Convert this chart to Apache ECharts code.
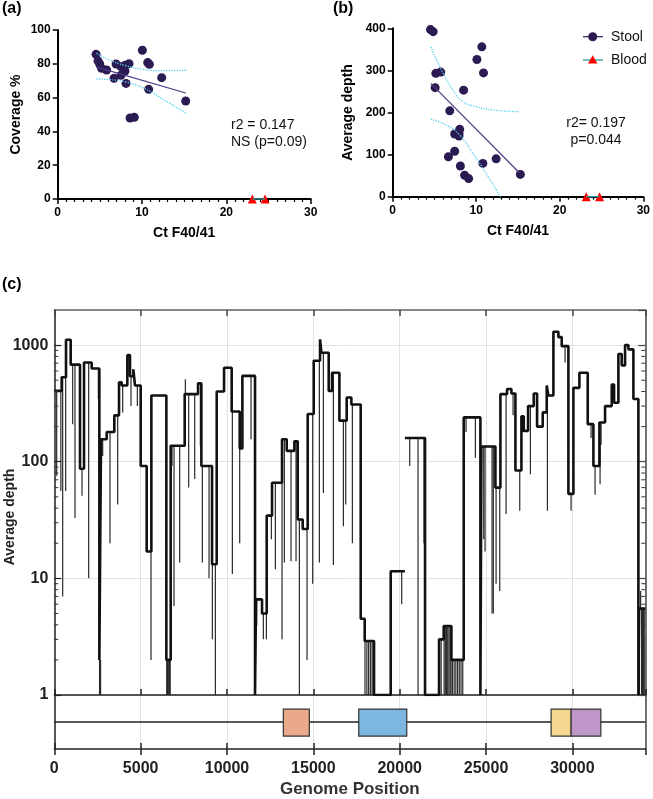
<!DOCTYPE html>
<html><head><meta charset="utf-8">
<script src="https://cdn.jsdelivr.net/npm/echarts@6/dist/echarts.min.js"></script>
<style>html,body{margin:0;padding:0;background:#fff}#c{width:653px;height:799px}</style>
</head><body><div id="c"></div>
<script>
// ---------- Panel (a) ----------
const ctA_stool = [4.55,4.78,4.98,5.2,5.8,6.68,6.92,7.5,7.5,7.98,8.0,8.1,8.46,8.58,9.09,10.04,10.67,10.87,10.79,12.33,15.18];
const covA_stool = [85.6,81.7,79.9,77.3,76.3,71.4,79.9,78.3,73.2,75.7,79.1,68.4,80.1,47.9,48.3,88.0,80.7,79.7,64.9,71.8,58.0];
const ctA_blood = [23.08,24.58];
const covA_blood = [0,0];
const regA_x = [4.55,15.18];
const regA_y = [78.2,62.7];
const bandA_x = [4.6,6,8,10,12,15.2];
const bandA_up = [86.3,82.5,79,76.8,76,76.2];
const bandA_lo = [71.0,70.7,69.3,66,60.5,50.7];
// ---------- Panel (b) ----------
const ctB_stool = [4.52,4.84,5.16,5.75,5.08,6.83,6.67,7.42,7.42,7.94,8.02,7.94,8.1,8.49,8.61,9.09,10.08,10.67,10.87,10.79,12.38,15.28];
const depthB_stool = [397,392,293,296,259,204,95,149,108,150,160,144,73,253,51,43,326,356,294,79,90,53];
const ctB_blood = [23.17,24.76];
const depthB_blood = [0,0];
const regB_x = [4.56,15.16];
const regB_y = [269,57];
const bandB_upx = [4.56,5.63,7.22,8.41,10,11.98,15.04];
const bandB_up = [356,309,253,226,214,206,202];
const bandB_lox = [4.56,6.43,8.02,9.6,11.19,12.9];
const bandB_lo = [184,170,146.5,103,55,0];
// ---------- Panel (c) ----------
const GENOME_END = 34220;
const segStart = [0,427,678,948,1488,1720,2164,2608,2704,3033,
 3476,3747,3901,4229,4384,4577,4673,5002,5349,5620,
 6488,6739,7550,8322,8515,9133,9404,9829,10270,10735,
 10890,11622,11680,12028,12298,12607,13186,13457,13900,14094,
 14383,14673,15020,15387,15464,15889,16082,16507,16931,17201,
 17742,17973,18513,19479,20300,20300,21466,22277,22548,22992,
 23707,24672,24730,25541,25831,26217,26468,26700,27047,27182,
 27433,27761,27954,28281,28513,28609,28899,29188,29381,29767,
 30057,30404,30887,31215,31562,31890,32276,32411,32662,32855,
 33048,33241,33531,33820,33859];
const segDepth = [405,530,1110,680,87,710,630,2,156,180,
 250,480,450,820,540,620,450,92,17,370,
 2,137,380,470,92,13.2,400,640,270,130,
 545,1,6.6,5.0,34.5,66,156,124,150,32,
 26.5,257,735,1120,860,405,580,225,355,310,
 4.5,2.9,1,11.5,null,160,1,3,3.9,2,
 240,1,135,60,380,420,385,84,245,184,
 300,385,200,265,450,370,1300,1170,980,53,
 430,580,210,92,217,300,460,320,840,670,
 1000,920,345,1,5.5];
const dipPos = [137,380,485,658,1064,1199,1604,1990,2550,2801,
 3226,3670,3959,4442,4808,5600,6816,6932,7260,7589,
 7781,8129,8457,8573,8959,9152,9326,10310,10735,11391,
 11719,12105,12280,12568,12800,13186,13321,13708,13997,14190,
 14634,14962,15348,15580,16160,16739,16873,17259,20116,20579,
 21061,21408,23841,24382,24730,24865,24940,25348,25420,25580,
 25792,26159,26564,26950,27568,28552,29574,29922,31080,31311,
 31601,31659,33878,33950,34110,
 2620,2650,2680,6510,6550,6590,6630,6670,6710,
 17990,18100,18200,18300,18400,18480,22300,22400,
 22570,22640,22710,22780,22850,22920,22970,
 23050,23150,23250,23350,23450,23550,23650,34000,34060,34160];
const dipDepth = [76,56,7,56,210,33,51,10,345,112,
 20,43,265,300,300,2,92,5.8,13.7,510,
 60,71,137,13.7,10,3,1,10.9,20,156,
 3.9,3,3,21.6,12,3,13.7,14,14,1,
 2,9,13.7,54,13,28,43,20,6,92,
 1,20,180,108,16,21.7,17,5,5,9,
 7.8,35.6,250,38,78,38,710,38,160,52,
 64,140,1,7.8,1,
 1,1,1,1,1,1,1,1,1,
 1,1,1,1,1,1,1,1,
 1,1,1,1,1,1,1,
 1,1,1,1,1,1,1,1,1,1];
const minorTickVals = [2,3,4,5,6,7,8,9,20,30,40,50,60,70,80,90,200,300,400,500,600,700,800,900];
// gene track
const geneStart = [13262,17628,28766,29925];
const geneEnd = [14768,20408,29925,31645];
const geneColors = ['#EAA98A','#7DB6DE','#F5D78F','#BE96C7'];

const FONT = 'Arial, "Liberation Sans", Helvetica, sans-serif';
const zip = (a,b)=>a.map((v,i)=>[v,b[i]]);

function depthAt(p){
  let d = 1;
  for (let i=0;i<segStart.length;i++){ if (segStart[i] <= p) d = (segDepth[i]===null?1:segDepth[i]); else break; }
  return d;
}
const depthPts = [];
for (let i=0;i<segStart.length;i++){
  const s = segStart[i], e = (i+1<segStart.length)?segStart[i+1]:GENOME_END, d = segDepth[i];
  if (d === null){ depthPts.push([s,'-']); continue; }
  depthPts.push([s,d]); depthPts.push([e,d]);
}
const dipData = dipPos.map((p,i)=>[p, dipDepth[i], depthAt(p)]);

const chart = echarts.init(document.getElementById('c'), null, {renderer:'canvas'});

const lbl12 = {fontFamily:FONT, fontWeight:'bold', fontSize:12, color:'#000'};
const scatterAxisX = (gi, nameGap) => ({
  gridIndex: gi, type:'value', min:0, max:30, interval:10,
  name:'Ct F40/41', nameLocation:'middle', nameGap:nameGap,
  nameTextStyle:{fontFamily:FONT, fontWeight:'bold', fontSize:14, color:'#000'},
  axisLine:{show:true, onZero:false, lineStyle:{color:'#000', width:2}},
  axisTick:{show:true, length:5, lineStyle:{color:'#000', width:1.5}},
  minorTick:{show:true, splitNumber:10, length:3, lineStyle:{color:'#000', width:1.2}},
  splitLine:{show:false},
  axisLabel:Object.assign({margin:8}, lbl12)
});
const scatterAxisY = (gi, max, interval, name, nameGap) => ({
  gridIndex: gi, type:'value', min:0, max:max, interval:interval,
  name:name, nameLocation:'middle', nameGap:nameGap,
  nameTextStyle:{fontFamily:FONT, fontWeight:'bold', fontSize:14, color:'#000'},
  axisLine:{show:true, onZero:false, lineStyle:{color:'#000', width:2}},
  axisTick:{show:true, length:5, lineStyle:{color:'#000', width:1.5}},
  splitLine:{show:false},
  axisLabel:Object.assign({margin:7}, lbl12)
});
const lbl16 = {fontFamily:FONT, fontWeight:'bold', fontSize:16, color:'#222'};
const fmtInt = v => String(Math.round(v));
const gridLine = {show:true, lineStyle:{color:'#e2e2e2', width:1}};

const option = {
  animation:false,
  backgroundColor:'#fff',
  grid:[
    {left:57.7, top:30, width:253, height:169},
    {left:392.7, top:28.3, width:252.3, height:168.4},
    {left:54.3, top:310, width:591, height:385},
    {left:54.3, top:695, width:591, height:55}
  ],
  xAxis:[
    scatterAxisX(0, 27),
    scatterAxisX(1, 27),
    {gridIndex:2, type:'value', min:0, max:GENOME_END, interval:5000, position:'bottom',
     axisLine:{show:true, onZero:false, lineStyle:{color:'#222', width:1.5}},
     axisTick:{show:true, inside:true, length:6, lineStyle:{color:'#222', width:1.5}},
     axisLabel:{show:false}, splitLine:gridLine},
    {gridIndex:2, type:'value', min:0, max:GENOME_END, interval:5000, position:'top',
     axisLine:{show:true, onZero:false, lineStyle:{color:'#666', width:1.5}},
     axisTick:{show:true, inside:true, length:6, lineStyle:{color:'#444', width:1.5}},
     axisLabel:{show:false}, splitLine:{show:false}},
    {gridIndex:3, type:'value', min:0, max:GENOME_END, interval:5000, position:'bottom',
     name:'Genome Position', nameLocation:'middle', nameGap:32,
     nameTextStyle:{fontFamily:FONT, fontWeight:'bold', fontSize:17, color:'#333'},
     axisLine:{show:true, onZero:false, lineStyle:{color:'#222', width:1.5}},
     axisTick:{show:true, inside:true, length:6, lineStyle:{color:'#222', width:1.5}},
     axisLabel:Object.assign({margin:12, formatter:fmtInt, showMaxLabel:false}, lbl16),
     splitLine:gridLine},
    {gridIndex:3, type:'value', min:0, max:GENOME_END, interval:5000, position:'top',
     axisLine:{show:false}, axisTick:{show:true, inside:true, length:6, lineStyle:{color:'#222', width:1.5}},
     axisLabel:{show:false}, splitLine:{show:false}}
  ],
  yAxis:[
    scatterAxisY(0, 100, 20, 'Coverage %', 35),
    scatterAxisY(1, 400, 100, 'Average depth', 38),
    {gridIndex:2, type:'log', logBase:10, min:1, max:2000, position:'left',
     axisLine:{show:true, onZero:false, lineStyle:{color:'#222', width:1.5}},
     axisTick:{show:true, inside:true, length:7, lineStyle:{color:'#222', width:1.2}},
     axisLabel:Object.assign({margin:6, formatter:fmtInt, showMaxLabel:false}, lbl16),
     splitLine:gridLine},
    {gridIndex:2, type:'log', logBase:10, min:1, max:2000, position:'right',
     axisLine:{show:true, onZero:false, lineStyle:{color:'#444', width:1.5}},
     axisTick:{show:true, inside:true, length:7, lineStyle:{color:'#444', width:1.2}},
     axisLabel:{show:false}, splitLine:{show:false}},
    {gridIndex:3, type:'value', min:0, max:1, position:'left',
     axisLine:{show:true, onZero:false, lineStyle:{color:'#222', width:1.5}},
     axisTick:{show:false}, axisLabel:{show:false}, splitLine:{show:false}},
    {gridIndex:3, type:'value', min:0, max:1, position:'right',
     axisLine:{show:true, onZero:false, lineStyle:{color:'#444', width:1.5}},
     axisTick:{show:false}, axisLabel:{show:false}, splitLine:{show:false}}
  ],
  series:[
    // panel a
    {type:'line', xAxisIndex:0, yAxisIndex:0, data:zip(bandA_x,bandA_up), smooth:true, showSymbol:false,
     lineStyle:{color:'#55CFEF', width:1.3, type:'dotted'}},
    {type:'line', xAxisIndex:0, yAxisIndex:0, data:zip(bandA_x,bandA_lo), smooth:true, showSymbol:false,
     lineStyle:{color:'#55CFEF', width:1.3, type:'dotted'}},
    {type:'line', xAxisIndex:0, yAxisIndex:0, data:zip(regA_x,regA_y), showSymbol:false,
     lineStyle:{color:'#4A3A88', width:1.2}},
    {type:'line', xAxisIndex:0, yAxisIndex:0, data:zip(ctA_blood,covA_blood), showSymbol:false,
     lineStyle:{color:'#2A9A9A', width:1.5}},
    {type:'scatter', name:'Stool', xAxisIndex:0, yAxisIndex:0, data:zip(ctA_stool,covA_stool),
     symbol:'circle', symbolSize:9, itemStyle:{color:'#2C1A52', opacity:1}},
    {type:'scatter', name:'Blood', xAxisIndex:0, yAxisIndex:0, data:zip(ctA_blood,covA_blood),
     symbol:'triangle', symbolSize:9, itemStyle:{color:'#FF0000', opacity:1}},
    // panel b
    {type:'line', xAxisIndex:1, yAxisIndex:1, data:zip(bandB_upx,bandB_up), smooth:true, showSymbol:false,
     lineStyle:{color:'#55CFEF', width:1.3, type:'dotted'}},
    {type:'line', xAxisIndex:1, yAxisIndex:1, data:zip(bandB_lox,bandB_lo), smooth:true, showSymbol:false,
     lineStyle:{color:'#55CFEF', width:1.3, type:'dotted'}},
    {type:'line', xAxisIndex:1, yAxisIndex:1, data:zip(regB_x,regB_y), showSymbol:false,
     lineStyle:{color:'#4A3A88', width:1.2}},
    {type:'line', xAxisIndex:1, yAxisIndex:1, data:zip(ctB_blood,depthB_blood), showSymbol:false,
     lineStyle:{color:'#2A9A9A', width:1.5}},
    {type:'scatter', name:'Stool', xAxisIndex:1, yAxisIndex:1, data:zip(ctB_stool,depthB_stool),
     symbol:'circle', symbolSize:9, itemStyle:{color:'#2C1A52', opacity:1}},
    {type:'scatter', name:'Blood', xAxisIndex:1, yAxisIndex:1, data:zip(ctB_blood,depthB_blood),
     symbol:'triangle', symbolSize:9, itemStyle:{color:'#FF0000', opacity:1}},
    // panel c : dips
    {type:'custom', xAxisIndex:2, yAxisIndex:2, data:dipData, encode:{x:0, y:[1,2]},
     renderItem:(params, api)=>{
       const a = api.coord([api.value(0), api.value(2)]);
       const b = api.coord([api.value(0), api.value(1)]);
       return {type:'line', shape:{x1:a[0], y1:a[1], x2:b[0], y2:b[1]}, style:{stroke:'#2a2a2a', lineWidth:1.2}};
     }},
    // panel c : depth trace
    {type:'line', xAxisIndex:2, yAxisIndex:2, data:depthPts, showSymbol:false, connectNulls:false,
     lineStyle:{color:'#111', width:2.6}, z:3},
    // panel c : minor log ticks (left and right)
    {type:'custom', xAxisIndex:2, yAxisIndex:2, data:minorTickVals.map(v=>[0,v]), encode:{x:0, y:1}, z:4,
     renderItem:(params, api)=>{
       const l = api.coord([0, api.value(1)]);
       const r = api.coord([GENOME_END, api.value(1)]);
       return {type:'group', children:[
         {type:'line', shape:{x1:l[0], y1:l[1], x2:l[0]+4, y2:l[1]}, style:{stroke:'#333', lineWidth:1}},
         {type:'line', shape:{x1:r[0], y1:r[1], x2:r[0]-4, y2:r[1]}, style:{stroke:'#333', lineWidth:1}}
       ]};
     }},
    // gene track backbone
    {type:'line', xAxisIndex:4, yAxisIndex:4, data:[[0,0.5],[GENOME_END,0.5]], showSymbol:false,
     lineStyle:{color:'#222', width:1.3}},
    // genes
    {type:'custom', xAxisIndex:4, yAxisIndex:4, data:geneStart.map((s,i)=>[s, geneEnd[i]]), encode:{x:[0,1]}, z:5,
     renderItem:(params, api)=>{
       const p1 = api.coord([api.value(0), 0.74]);
       const p2 = api.coord([api.value(1), 0.24]);
       return {type:'rect', shape:{x:p1[0], y:p1[1], width:p2[0]-p1[0], height:p2[1]-p1[1]},
               style:{fill:geneColors[params.dataIndex], stroke:'#333', lineWidth:1.2}};
     }}
  ],
  graphic:[
    {type:'text', left:2, top:1, style:{text:'(a)', font:'bold 16px '+FONT, fill:'#000'}},
    {type:'text', left:333, top:1, style:{text:'(b)', font:'bold 16px '+FONT, fill:'#000'}},
    {type:'text', left:2, top:277, style:{text:'(c)', font:'bold 16px '+FONT, fill:'#000'}},
    {type:'text', x:231, y:117, style:{text:'r2 = 0.147\nNS (p=0.09)', font:'14px '+FONT, fill:'#111', lineHeight:17}},
    {type:'text', x:596, y:115, style:{text:'r2= 0.197\np=0.044', font:'14px '+FONT, fill:'#111', lineHeight:17, textAlign:'center'}},
    // legend
    {type:'line', shape:{x1:583, y1:36.7, x2:603, y2:36.7}, style:{stroke:'#3D2D70', lineWidth:1.3}},
    {type:'circle', shape:{cx:592.7, cy:36.7, r:4.5}, style:{fill:'#2C1A52'}},
    {type:'text', x:611, y:36.7, style:{text:'Stool', font:'14px '+FONT, fill:'#111', textVerticalAlign:'middle'}},
    {type:'line', shape:{x1:583, y1:60, x2:603, y2:60}, style:{stroke:'#2A9A9A', lineWidth:1.3}},
    {type:'polygon', shape:{points:[[592.7,55.3],[597.4,63.4],[588,63.4]]}, style:{fill:'#FF0000'}},
    {type:'text', x:611, y:60, style:{text:'Blood', font:'14px '+FONT, fill:'#111', textVerticalAlign:'middle'}},
    // panel c y title
    {type:'text', x:10, y:517, rotation:Math.PI/2,
     style:{text:'Average depth', font:'bold 14px '+FONT, fill:'#222', textAlign:'center', textVerticalAlign:'middle'}}
  ]
};
chart.setOption(option);
</script></body></html>
